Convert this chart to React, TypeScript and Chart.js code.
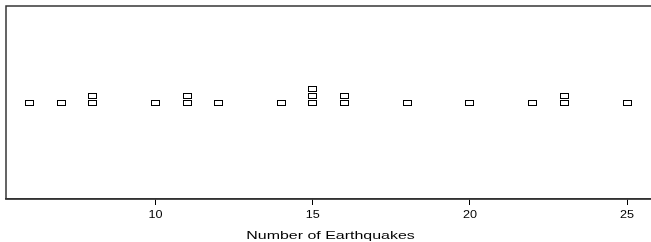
import React, { useEffect, useRef } from "react";
import { Chart, registerables } from "chart.js";

Chart.register(...registerables);

const earthquakes = [6, 7, 8, 8, 10, 11, 11, 12, 14, 15, 15, 15, 16, 16, 18, 20, 22, 23, 23, 25];
const xTicks = [10, 15, 20, 25];
const xTitle = "Number of Earthquakes";
const xMin = 5.24;
const xMax = 25.76;

function stackedPoints(values: number[]) {
  const seen: Record<string, number> = {};
  return values.map((v) => {
    const k = String(v);
    const level = seen[k] || 0;
    seen[k] = level + 1;
    return { x: v, y: level * 7 };
  });
}

function makeBox(): HTMLCanvasElement {
  const c = document.createElement("canvas");
  c.width = 9;
  c.height = 6;
  const g = c.getContext("2d")!;
  g.fillStyle = "#000";
  g.fillRect(0, 0, 9, 1);
  g.fillRect(0, 5, 9, 1);
  g.fillRect(0, 0, 1, 6);
  g.fillRect(8, 0, 1, 6);
  return c;
}

function drawStretched(ctx: CanvasRenderingContext2D, text: string, x: number, y: number, sx: number) {
  ctx.save();
  ctx.translate(x, y);
  ctx.scale(sx, 1);
  ctx.fillText(text, 0, 0);
  ctx.restore();
}

const framePlugin = {
  id: "frameAndText",
  beforeDatasetsDraw(chart: any) {
    chart.ctx.imageSmoothingEnabled = false;
  },
  afterDraw(chart: any) {
    const { ctx, chartArea } = chart;
    const xs = chart.scales.x;
    ctx.save();
    ctx.strokeStyle = "#333";
    ctx.lineWidth = 1.5;
    ctx.beginPath();
    ctx.moveTo(chartArea.right + 5, chartArea.top);
    ctx.lineTo(chartArea.left, chartArea.top);
    ctx.lineTo(chartArea.left, chartArea.bottom);
    ctx.lineTo(chartArea.right + 5, chartArea.bottom);
    ctx.stroke();
    ctx.fillStyle = "#000";
    ctx.textAlign = "center";
    ctx.textBaseline = "middle";
    ctx.font = "11px 'Liberation Sans', Arial, sans-serif";
    xTicks.forEach((v) => {
      drawStretched(ctx, String(v), xs.getPixelForValue(v), chartArea.bottom + 16, 1.15);
    });
    drawStretched(ctx, xTitle, (chartArea.left + chartArea.right) / 2 + 2, chartArea.bottom + 37, 1.45);
    ctx.restore();
  },
};

export default function App() {
  const ref = useRef<HTMLCanvasElement | null>(null);
  useEffect(() => {
    if (!ref.current) return;
    const chart = new Chart(ref.current, {
      type: "scatter",
      data: {
        datasets: [
          {
            data: stackedPoints(earthquakes),
            pointStyle: makeBox() as any,
            pointRadius: 4,
          },
        ],
      },
      options: {
        animation: false,
        responsive: false,
        events: [],
        layout: { autoPadding: false, padding: { left: 6, top: 6, right: 0, bottom: 37 } },
        plugins: { legend: { display: false }, tooltip: { enabled: false } },
        scales: {
          x: {
            type: "linear",
            min: xMin,
            max: xMax,
            afterBuildTicks: (scale: any) => {
              scale.ticks = xTicks.map((v) => ({ value: v }));
            },
            grid: { display: true, drawOnChartArea: false, drawTicks: true, tickLength: 6, color: "#000" },
            border: { display: true, color: "#333", width: 1.5 },
            ticks: { display: false },
            title: { display: false, text: xTitle },
          },
          y: {
            display: false,
            min: -96.5,
            max: 96.5,
          },
        },
      },
      plugins: [framePlugin],
    });
    return () => chart.destroy();
  }, []);
  return (
    <div style={{ position: "absolute", left: 0, top: 0, width: 651, height: 242, overflow: "hidden" }}>
      <canvas ref={ref} width={651} height={242} style={{ width: 651, height: 242, display: "block" }} />
    </div>
  );
}
